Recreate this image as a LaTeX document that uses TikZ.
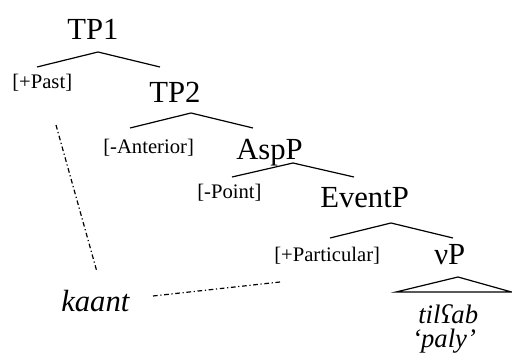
\documentclass[tikz,border=0pt]{standalone}
\usepackage{fontspec}
\setmainfont{Liberation Serif}
\begin{document}
\begin{tikzpicture}[x=0.75pt,y=-0.75pt,
  big/.style={inner sep=0pt,anchor=base west,font=\fontsize{23}{23}\selectfont},
  feat/.style={inner sep=0pt,anchor=base west,font=\fontsize{15.5}{16}\selectfont},
  word/.style={inner sep=0pt,anchor=base west,font=\fontsize{23}{23}\selectfont\itshape},
  gloss/.style={inner sep=0pt,anchor=base west,font=\fontsize{20}{20}\selectfont\itshape},
  branch/.style={line width=0.9pt},
  assoc/.style={line width=0.9pt,dash pattern=on 3.5pt off 2pt on 0.9pt off 2pt}]
\useasboundingbox (0,0) rectangle (512,356);
% nodes
\node[big] (tp1) at (67,40) {TP1};
\node[feat] (past) at (12,88.5) {[+Past]};
\node[big] (tp2) at (149,103) {TP2};
\node[feat] (ant) at (103,153.5) {[-Anterior]};
\node[big] (asp) at (236,160) {AspP};
\node[feat] (point) at (197,198.5) {[-Point]};
\node[big] (ev) at (320,208) {EventP};
\node[feat] (part) at (274,261.5) {[+Particular]};
\node[big] (vp) at (434,265) {νP};
\node[word] (kaant) at (61,312) {kaant};
\node[gloss] (til) at (418,324) {tilʕab};
\node[gloss] (paly) at (412,348) {‘paly’};
% branch coordinates
\coordinate (tp1a) at (98,52);  \coordinate (tp1l) at (37,67);  \coordinate (tp1r) at (160,67);
\coordinate (tp2a) at (191,113); \coordinate (tp2l) at (130,128); \coordinate (tp2r) at (253,128);
\coordinate (aspa) at (293,163); \coordinate (aspl) at (232,177); \coordinate (aspr) at (354,177);
\coordinate (eva) at (391,223);  \coordinate (evl) at (330,238);  \coordinate (evr) at (453,238);
\coordinate (tria) at (458,277); \coordinate (tril) at (396,292); \coordinate (trir) at (511.5,292);
\draw[branch] (tp1l) -- (tp1a) -- (tp1r);
\draw[branch] (tp2l) -- (tp2a) -- (tp2r);
\draw[branch] (aspl) -- (aspa) -- (aspr);
\draw[branch] (evl) -- (eva) -- (evr);
\draw[branch,line join=miter] (tril) -- (tria) -- (trir) -- cycle;
% association lines
\coordinate (d1a) at (56,125); \coordinate (d1b) at (97,272);
\coordinate (d2a) at (153,296); \coordinate (d2b) at (280,282);
\draw[assoc] (d1a) -- (d1b);
\draw[assoc] (d2a) -- (d2b);
\end{tikzpicture}
\end{document}
